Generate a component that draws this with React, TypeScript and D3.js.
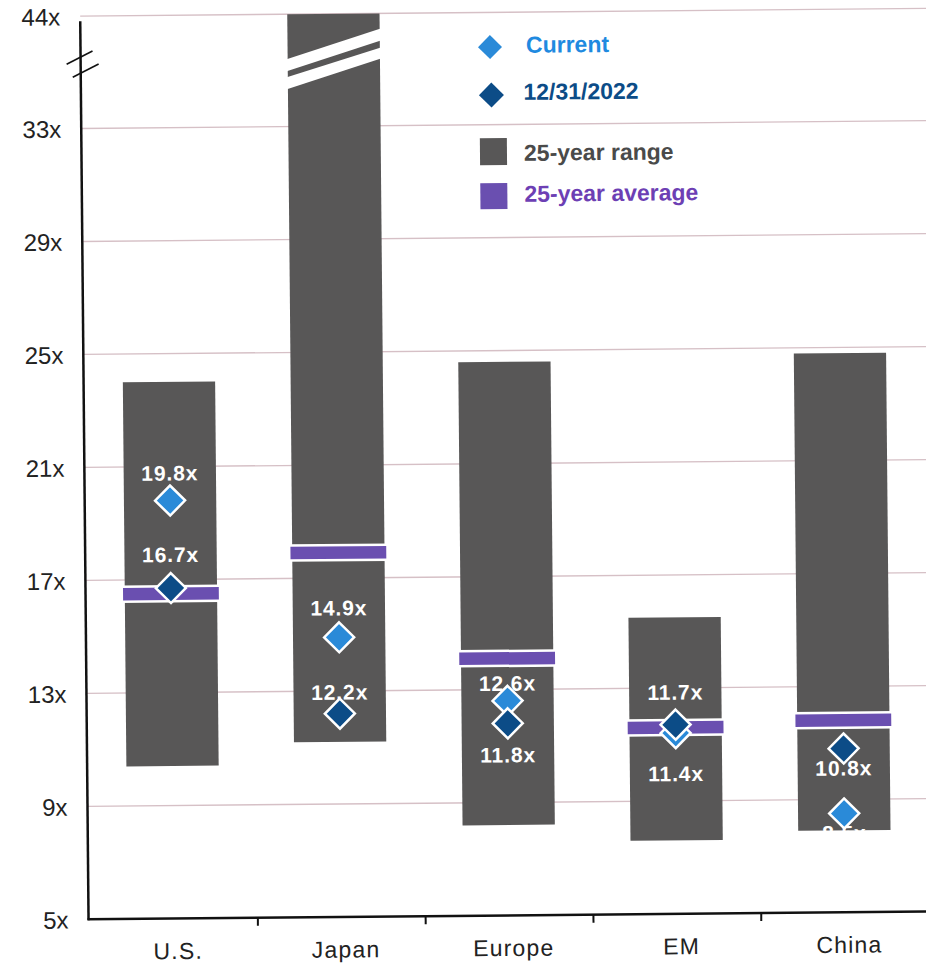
import React from "react";
import * as d3 from "d3";

// Forward P/E ranges by region
const categories = ["U.S.", "Japan", "Europe", "EM", "China"];
const rangeLow = [10.4, 11.2, 8.2, 7.6, 7.9];
const rangeHigh = [24.0, 44, 24.6, 15.5, 24.8]; // Japan's high runs past the top of the scale
const average = [16.5, 17.9, 14.1, 11.6, 11.8];
const current = [19.8, 14.9, 12.6, 11.4, 8.5];
const yearEnd2022 = [16.7, 12.2, 11.8, 11.7, 10.8];
const yTicks = [5, 9, 13, 17, 21, 25, 29, 33, 44];

// Vertical placement of the value labels, relative to each marker
const currentLabelDy = [-20, -22, -10, 48, 27];
const yearEndLabelDy = [-26, -14, 39, -25, 27];

const W = 926;
const H = 964;
const FONT = "'Liberation Sans', Arial, Helvetica, sans-serif";
const BAR = "#585757";
const AVG = "#6a4fb0";
const CUR = "#2a8ad8";
const DARK = "#0c4c87";
const GRID = "#d6c0c6";

export default function App() {
  const axisX = 84.5;
  // Broken axis: 33x to 44x takes one tick step
  const y = d3.scaleLinear().domain([5, 33, 44]).range([915.5, 124.6, 12.3]);
  const x = d3
    .scaleBand<string>()
    .domain(categories)
    .range([86, 925])
    .paddingInner(0.45)
    .paddingOuter(0.225);
  const bw = x.bandwidth();
  const step = x.step();
  const boundaries = d3.range(1, categories.length + 1).map((i) => 86 + i * step);

  const diamond = (r: number) => `M0,${-r}L${r},0L0,${r}L${-r},0Z`;

  return (
    <svg
      width={W}
      height={H}
      style={{ position: "fixed", left: 0, top: 0, background: "#fff" }}
      fontFamily={FONT}
    >
      <rect width={W} height={H} fill="#fff" />
      <g transform="rotate(-0.53, 500, 480)">
        {/* gridlines */}
        {yTicks
          .filter((t) => t !== 5)
          .map((t) => (
            <line key={t} x1={axisX} x2={W + 10} y1={y(t)} y2={y(t)} stroke={GRID} strokeWidth={1.4} />
          ))}

        {/* y tick labels */}
        {yTicks.map((t) => (
          <text key={t} x={axisX - 20} y={y(t) + 9} fontSize={24} textAnchor="end" fill="#222">
            {`${t}x`}
          </text>
        ))}

        {/* 25-year ranges */}
        {categories.map((c, i) => {
          const top = y(Math.min(rangeHigh[i], 44));
          return (
            <rect key={c} x={x(c)} y={top} width={bw} height={y(rangeLow[i]) - top} fill={BAR} />
          );
        })}

        {/* break marks across Japan's bar */}
        {(() => {
          const x0 = x("Japan")! - 1;
          const x1 = x0 + bw + 2;
          const t = y(44);
          return (
            <g fill="#fff">
              <path d={`M${x0},${t + 45}L${x1},${t + 15}L${x1},${t + 27}L${x0},${t + 57}Z`} />
              <path d={`M${x0},${t + 63}L${x1},${t + 34}L${x1},${t + 45}L${x0},${t + 75}Z`} />
            </g>
          );
        })()}

        {/* 25-year averages */}
        {categories.map((c, i) => (
          <rect
            key={c}
            x={x(c)! - 3}
            y={y(average[i]) - 7.5}
            width={bw + 6}
            height={15}
            fill={AVG}
            stroke="#fff"
            strokeWidth={2.5}
          />
        ))}

        {/* value labels */}
        {categories.map((c, i) => {
          const cx = x(c)! + bw / 2;
          return (
            <g key={c} fill="#fff" fontSize={21} fontWeight="bold" textAnchor="middle" letterSpacing={0.9}>
              <text x={cx} y={y(current[i]) + currentLabelDy[i]}>{`${current[i].toFixed(1)}x`}</text>
              <text x={cx} y={y(yearEnd2022[i]) + yearEndLabelDy[i]}>{`${yearEnd2022[i].toFixed(1)}x`}</text>
            </g>
          );
        })}

        {/* markers: current first, 12/31/2022 on top */}
        {categories.map((c, i) => (
          <path
            key={c}
            d={diamond(15)}
            transform={`translate(${x(c)! + bw / 2},${y(current[i])})`}
            fill={CUR}
            stroke="#fff"
            strokeWidth={2.5}
          />
        ))}
        {categories.map((c, i) => (
          <path
            key={c}
            d={diamond(15)}
            transform={`translate(${x(c)! + bw / 2},${y(yearEnd2022[i])})`}
            fill={DARK}
            stroke="#fff"
            strokeWidth={2.5}
          />
        ))}

        {/* axes */}
        <line x1={axisX} x2={axisX} y1={y(44) + 5} y2={y(5) + 1} stroke="#111" strokeWidth={2.5} />
        <line x1={axisX - 1} x2={W + 10} y1={y(5)} y2={y(5)} stroke="#111" strokeWidth={2.5} />
        {boundaries.map((b, i) => (
          <line key={i} x1={b} x2={b} y1={y(5)} y2={y(5) + 8} stroke="#111" strokeWidth={2} />
        ))}
        {/* axis break symbol */}
        <g stroke="#111" strokeWidth={1.6}>
          <line x1={axisX - 14} y1={y(44) + 48} x2={axisX + 12} y2={y(44) + 35} />
          <line x1={axisX - 8} y1={y(44) + 61} x2={axisX + 18} y2={y(44) + 48} />
        </g>

        {/* category labels */}
        {categories.map((c) => (
          <text
            key={c}
            x={x(c)! + bw / 2 + 4}
            y={956}
            fontSize={23}
            letterSpacing={1.2}
            textAnchor="middle"
            fill="#222"
          >
            {c}
          </text>
        ))}

        {/* legend */}
        <g fontSize={23} fontWeight="bold">
          <path d={diamond(12)} transform="translate(494,47)" fill={CUR} />
          <text x={530} y={53} fill="#1f8ae0">Current</text>
          <path d={diamond(12.5)} transform="translate(495,95)" fill={DARK} />
          <text x={527} y={100} fill={DARK}>12/31/2022</text>
          <rect x={483} y={138} width={27} height={27} fill={BAR} />
          <text x={527} y={161} fill="#4a4a4a">25-year range</text>
          <rect x={483} y={183} width={27} height={26} fill={AVG} />
          <text x={527} y={202} fill="#6d3fb4">25-year average</text>
        </g>
      </g>
    </svg>
  );
}
